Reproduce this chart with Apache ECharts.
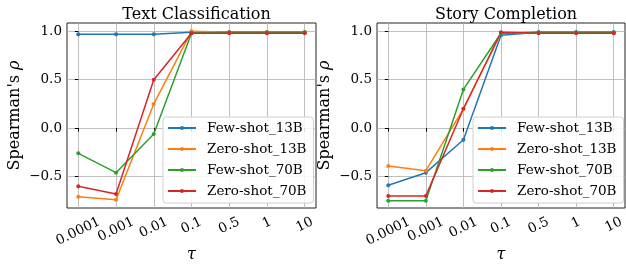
<!DOCTYPE html>
<html><head><meta charset="utf-8">
<script src="https://cdn.jsdelivr.net/npm/echarts@6/dist/echarts.min.js"></script>
<style>html,body{margin:0;padding:0;background:#fff}#c{width:626px;height:264px}</style>
</head><body><div id="c"></div>
<script>
const tauLabels = ['0.0001','0.001','0.01','0.1','0.5','1','10'];
const seriesNames = ['Few-shot_13B','Zero-shot_13B','Few-shot_70B','Zero-shot_70B'];
const colors = ['#1f77b4','#ff7f0e','#2ca02c','#d62728'];
const yTicks = [-0.5, 0, 0.5, 1.0];
const panelTitles = ['Text Classification','Story Completion'];
// Text Classification
const tcFewShot13B  = [0.97, 0.97, 0.97, 0.99, 0.99, 0.99, 0.99];
const tcZeroShot13B = [-0.71, -0.74, 0.25, 1.00, 0.99, 0.99, 0.99];
const tcFewShot70B  = [-0.26, -0.46, -0.06, 0.98, 0.99, 0.99, 0.99];
const tcZeroShot70B = [-0.60, -0.68, 0.50, 0.98, 0.98, 0.98, 0.98];
// Story Completion
const scFewShot13B  = [-0.59, -0.46, -0.12, 0.96, 0.99, 0.99, 0.99];
const scZeroShot13B = [-0.39, -0.44, 0.20, 0.98, 0.98, 0.98, 0.98];
const scFewShot70B  = [-0.75, -0.75, 0.40, 0.98, 0.99, 0.99, 0.99];
const scZeroShot70B = [-0.70, -0.70, 0.20, 0.99, 0.98, 0.98, 0.98];

const panels = [
  [tcFewShot13B, tcZeroShot13B, tcFewShot70B, tcZeroShot70B],
  [scFewShot13B, scZeroShot13B, scFewShot70B, scZeroShot70B]
];

const FONT = '"DejaVu Serif", serif';
const FS = 13.5;
const ROT = 26;
const th = ROT * Math.PI / 180;
const ctx = document.createElement('canvas').getContext('2d');
ctx.font = FS + 'px "DejaVu Serif"';
const H = FS * 1.0;
const half = tauLabels.map(t => (ctx.measureText(t).width * Math.sin(th) + H * Math.cos(th)) / 2);
const minHalf = Math.min(...half);
const rich = {};
tauLabels.forEach((t, i) => {
  const e = half[i] - minHalf;
  const p = 2 * e * Math.cos(th);
  rich['l' + i] = {fontFamily: FONT, fontSize: FS, color: '#000', padding: [p, p * Math.tan(th), 0, 0]};
});
const tickIdx = tauLabels.map((t, i) => i);

const gridPos = [{left: 67, top: 23, width: 249, height: 185}, {left: 377, top: 23, width: 248, height: 185}];
const legendPos = [{left: 163, top: 117}, {left: 473, top: 117}];

const option = {
  backgroundColor: '#fff',
  animation: false,
  title: panelTitles.map((t, i) => ({
    text: t, left: gridPos[i].left + gridPos[i].width / 2, top: 2, textAlign: 'center',
    textStyle: {fontFamily: FONT, fontSize: 16, fontWeight: 'normal', color: '#000'}
  })),
  legend: legendPos.map(p => ({
    data: seriesNames, orient: 'vertical', left: p.left, top: p.top,
    itemWidth: 28, itemHeight: 5, itemGap: 5, padding: [3, 7, 4, 4],
    borderColor: '#d0d0d0', borderWidth: 1, borderRadius: 3, backgroundColor: 'rgba(255,255,255,0.85)',
    textStyle: {fontFamily: FONT, fontSize: 13.5, color: '#000', padding: [0, 0, 0, 6], lineHeight: 16}
  })),
  grid: gridPos.map(g => ({...g, show: true, borderColor: '#222', borderWidth: 1, backgroundColor: 'transparent',
    containLabel: false, outerBoundsMode: 'none'})),
  xAxis: gridPos.map((g, i) => ({
    type: 'value', gridIndex: i, min: -0.3, max: 6.3,
    name: 'τ', nameLocation: 'middle', nameGap: 39, nameMoveOverlap: false,
    nameTextStyle: {fontFamily: FONT, fontSize: 16, fontStyle: 'italic', color: '#000'},
    axisLine: {show: false},
    axisTick: {show: true, length: 3.5, customValues: tickIdx, lineStyle: {color: '#000'}},
    axisLabel: {customValues: tickIdx, rotate: ROT, align: 'center', verticalAlign: 'middle', margin: 7 + minHalf,
      formatter: v => { const k = Math.round(v); return '{l' + k + '|' + tauLabels[k] + '}'; }, rich: rich},
    splitLine: {show: true, lineStyle: {color: '#b0b0b0', width: 0.8}}
  })),
  yAxis: gridPos.map((g, i) => ({
    type: 'value', gridIndex: i, min: -0.825, max: 1.086,
    name: "{a|Spearman's }{b|ρ}", nameLocation: 'middle', nameGap: 44, nameRotate: 90, nameMoveOverlap: false,
    nameTextStyle: {rich: {a: {fontFamily: FONT, fontSize: 16, color: '#000'}, b: {fontFamily: FONT, fontSize: 16, fontStyle: 'italic', color: '#000'}}},
    axisLine: {show: false},
    axisTick: {show: true, length: 3.5, customValues: yTicks, lineStyle: {color: '#000'}},
    axisLabel: {customValues: yTicks, margin: 5, fontFamily: FONT, fontSize: FS, color: '#000',
      formatter: v => (v < 0 ? '\u2212' : '') + Math.abs(v).toFixed(1)},
    splitLine: {show: true, lineStyle: {color: '#b0b0b0', width: 0.8}}
  })),
  series: []
};
panels.forEach((arrs, p) => {
  arrs.forEach((vals, s) => {
    option.series.push({
      type: 'line', name: seriesNames[s], xAxisIndex: p, yAxisIndex: p,
      data: vals.map((v, i) => [i, v]),
      symbol: 'circle', symbolSize: 4, showSymbol: true,
      itemStyle: {color: colors[s]}, lineStyle: {color: colors[s], width: 1.5}
    });
  });
});
const chart = echarts.init(document.getElementById('c'), null, {renderer: 'canvas'});
chart.setOption(option);
</script></body></html>
